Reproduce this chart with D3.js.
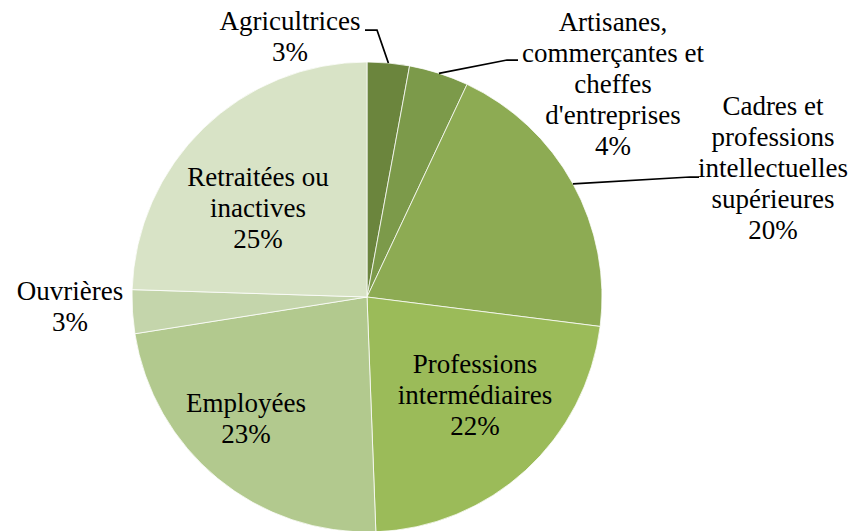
<!DOCTYPE html>
<html>
<head>
<meta charset="utf-8">
<script src="https://cdn.jsdelivr.net/npm/d3@7"></script>
<style>
  html, body { margin: 0; padding: 0; background: #fff; }
  svg { display: block; }
  text { font-family: "Liberation Serif", "Times New Roman", serif; font-size: 27px; fill: #000; }
</style>
</head>
<body>
<svg id="chart"></svg>
<script>
// categories and shares (percent), clockwise from 12 o'clock
const categories = ["Agricultrices", "Artisanes, commerçantes et cheffes d'entreprises",
  "Cadres et professions intellectuelles supérieures", "Professions intermédiaires",
  "Employées", "Ouvrières", "Retraitées ou inactives"]
const values = [2.9, 4.1, 20.0, 22.4, 23.1, 3.0, 24.5]
const labelLines = [
  ["Agricultrices"],
  ["Artisanes,", "commerçantes et", "cheffes", "d'entreprises"],
  ["Cadres et", "professions", "intellectuelles", "supérieures"],
  ["Professions", "intermédiaires"],
  ["Employées"],
  ["Ouvrières"],
  ["Retraitées ou", "inactives"]
]
const colors = ["#6b853d", "#7c9a4a", "#8dab53", "#9bbb59", "#b2c98e", "#c4d5ab", "#d8e3c6"]

const W = 858, H = 531,
      cx = 367, cy = 297,
      r = 235,
      lh = 31;

// label layout: text centre, first baseline, optional leader elbow
const layout = [
  { x: 290, y: 30, elbow: [377, 30], end: 365 },
  { x: 613, y: 31, elbow: [507, 60], end: 518 },
  { x: 773, y: 115, elbow: [690, 177], end: 699 },
  { x: 475, y: 373 },
  { x: 246, y: 412 },
  { x: 70, y: 300 },
  { x: 258, y: 186 }
]

const svg = d3.select("#chart")
  .attr("width", W)
  .attr("height", H)

const pie = d3.pie().sort(null).value(d => d)
const arcs = pie(values)
const arc = d3.arc().innerRadius(0).outerRadius(r)
const edge = d3.arc().innerRadius(r).outerRadius(r)

const g = svg.append("g")
  .attr("transform", "translate(" + cx + "," + cy + ")")

g.selectAll("path")
  .data(arcs)
  .enter().append("path")
  .attr("d", arc)
  .attr("fill", (d, i) => colors[i])
  .attr("stroke", "#fff")
  .attr("stroke-width", 0.75)

// leader lines
arcs.forEach((d, i) => {
  const L = layout[i]
  if (!L.elbow) return
  const p = edge.centroid(d)
  const pts = [[cx + p[0], cy + p[1]], L.elbow, [L.end, L.elbow[1]]]
  svg.append("path")
    .attr("d", d3.line()(pts))
    .attr("fill", "none")
    .attr("stroke", "#000")
    .attr("stroke-width", 1.75)
})

// labels
arcs.forEach((d, i) => {
  const L = layout[i]
  const lines = labelLines[i].concat([Math.round(values[i]) + "%"])
  const t = svg.append("text")
    .attr("text-anchor", "middle")
  lines.forEach((s, k) => {
    t.append("tspan")
      .attr("x", L.x)
      .attr("y", L.y + k * lh)
      .text(s)
  })
})
</script>
</body>
</html>
